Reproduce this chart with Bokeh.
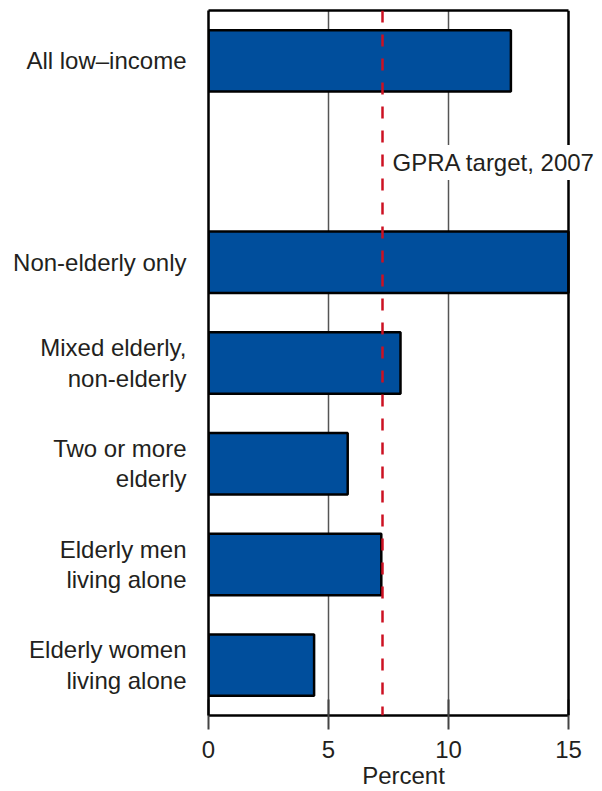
from bokeh.plotting import figure
from bokeh.models import FactorRange, Range1d, Span, Label, FixedTicker, LinearAxis
from bokeh.embed import file_html
from bokeh.resources import INLINE

# ---- data ----
categories = ["All low\u2013income", "Non-elderly only", "Mixed elderly,\nnon-elderly",
              "Two or more\nelderly", "Elderly men\nliving alone", "Elderly women\nliving alone"]
values = [12.6, 15.0, 8.0, 5.8, 7.2, 4.4]
x_ticks = [0, 5, 10, 15]
x_max = 15
target_value = 7.25
target_label = "GPRA target, 2007"
spacer = " "

# order from bottom to top, with an empty slot under the first bar
factors = list(reversed(categories[1:])) + [spacer, categories[0]]

FONT = "Liberation Sans"
TXT = "#231F20"
BLUE = "#004E9C"
FS = "24px"

# the frame runs a little past 15 so that the target label can overhang the border
p = figure(width=600, height=791, output_backend="svg", toolbar_location=None,
           x_range=Range1d(0, 16.25), y_range=FactorRange(factors=factors),
           min_border_left=208, min_border_right=2, min_border_top=10, min_border_bottom=73)

p.hbar(y=categories, right=values, left=0, height=0.61,
       fill_color=BLUE, line_color="black", line_width=2.5)

p.outline_line_color = None
p.background_fill_color = "white"
p.border_fill_color = "white"

# grid
p.ygrid.grid_line_color = None
p.xgrid.ticker = FixedTicker(ticks=[5, 10])
p.xgrid.grid_line_color = "#555555"
p.xgrid.grid_line_width = 1.5

# x axis
xa = p.xaxis[0]
xa.ticker = FixedTicker(ticks=x_ticks)
xa.bounds = (0, x_max)
xa.axis_label = "Percent"
xa.axis_line_color = "black"
xa.axis_line_width = 2.5
xa.major_tick_line_color = "#444444"
xa.major_tick_line_width = 2
xa.major_tick_out = 14
xa.major_tick_in = 16
xa.minor_tick_line_color = None
xa.major_label_text_font = FONT
xa.major_label_text_font_size = FS
xa.major_label_text_color = TXT
xa.major_label_standoff = 11
xa.axis_label_text_font = FONT
xa.axis_label_text_font_size = FS
xa.axis_label_text_font_style = "normal"
xa.axis_label_text_color = TXT
xa.axis_label_standoff = 1

# top border as an unlabeled axis
top = LinearAxis(bounds=(0, x_max), ticker=FixedTicker(ticks=[]),
                 axis_line_color="black", axis_line_width=2.5,
                 major_tick_line_color=None, minor_tick_line_color=None,
                 major_label_text_font_size="0px", major_label_standoff=0)
p.add_layout(top, "above")

# y axis
ya = p.yaxis[0]
ya.axis_line_color = "black"
ya.axis_line_width = 2.5
ya.major_tick_line_color = None
ya.minor_tick_line_color = None
ya.major_label_text_font = FONT
ya.major_label_text_font_size = FS
ya.major_label_text_color = TXT
ya.major_label_standoff = 16
ya.major_label_text_line_height = 1.13

# right border
p.add_layout(Span(location=x_max, dimension="height", line_color="black", line_width=2.5))

# target line
p.add_layout(Span(location=target_value, dimension="height", line_color="#CC1122",
                  line_width=2.5, line_dash="12 12"))

p.add_layout(Label(x=target_value, y=5.49, text=target_label,
                   x_offset=6, text_baseline="middle", text_align="left",
                   text_font=FONT, text_font_size=FS, text_color=TXT,
                   background_fill_color="white", padding=4))

open("out.html", "w").write(file_html(p, INLINE))
